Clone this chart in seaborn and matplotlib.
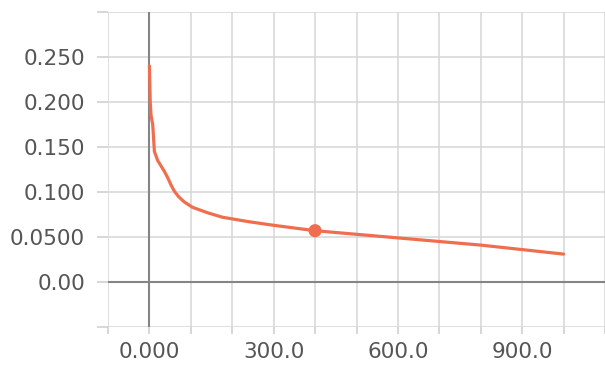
import matplotlib
matplotlib.use("Agg")
import matplotlib.pyplot as plt
import seaborn as sns
import pandas as pd
from matplotlib.ticker import FixedLocator, FixedFormatter

# Data
steps = [0, 2, 4, 8, 12, 20, 36, 44, 52, 60, 70, 84, 104, 140, 176, 240,
         300, 400, 500, 600, 700, 800, 900, 1000]
values = [0.240, 0.200, 0.185, 0.175, 0.145, 0.135, 0.123, 0.116, 0.108,
          0.101, 0.095, 0.089, 0.083, 0.077, 0.072, 0.067, 0.063, 0.057,
          0.053, 0.049, 0.045, 0.041, 0.036, 0.031]
marker_step = [400]
marker_value = [0.057]

x_ticks = [0, 300, 600, 900]
x_tick_labels = ["0.000", "300.0", "600.0", "900.0"]
y_ticks = [0.0, 0.05, 0.10, 0.15, 0.20, 0.25]
y_tick_labels = ["0.00", "0.0500", "0.100", "0.150", "0.200", "0.250"]

df = pd.DataFrame({"step": steps, "value": values})
mk = pd.DataFrame({"step": marker_step, "value": marker_value})

sns.set_style("white")
plt.rcParams["font.family"] = ["DejaVu Sans"]

fig = plt.figure(figsize=(6.05, 3.65), dpi=100)
ax = fig.add_axes([108 / 605, 1 - 327 / 365, 1 - 108 / 605, (327 - 12) / 365])

line_color = "#ef6e4e"
sns.lineplot(data=df, x="step", y="value", ax=ax, color=line_color,
             linewidth=2.3, zorder=5)
sns.scatterplot(data=mk, x="step", y="value", ax=ax, color=line_color,
                s=90, edgecolor="none", zorder=6)

ax.set_xlim(-100, 1100)
ax.set_ylim(-0.05, 0.30)

# Gridlines at every 100 steps / 0.05 units
grid_x = list(range(-100, 1101, 100))
ax.xaxis.set_major_locator(FixedLocator(x_ticks))
ax.xaxis.set_major_formatter(FixedFormatter(x_tick_labels))
ax.xaxis.set_minor_locator(FixedLocator([g for g in grid_x if g not in x_ticks]))
ax.yaxis.set_major_locator(FixedLocator(y_ticks))
ax.yaxis.set_major_formatter(FixedFormatter(y_tick_labels))
ax.yaxis.set_minor_locator(FixedLocator([-0.05, 0.30]))

ax.grid(True, which="both", color="#d6d6d6", linewidth=1.1, zorder=0)
ax.axhline(0, color="#858585", linewidth=1.5, zorder=2)
ax.axvline(0, color="#858585", linewidth=1.5, zorder=2)

for s in ax.spines.values():
    s.set_visible(False)

ax.tick_params(axis="both", which="both", direction="out", color="#cdcdcd",
               width=1.1, labelcolor="#555555", labelsize=15.5)
ax.tick_params(axis="y", which="both", length=8, pad=8.5)
ax.tick_params(axis="x", which="both", length=5, pad=6)
ax.tick_params(bottom=True, left=True, which="both")

ax.set_xlabel("")
ax.set_ylabel("")

fig.savefig("out.png", dpi=100)
